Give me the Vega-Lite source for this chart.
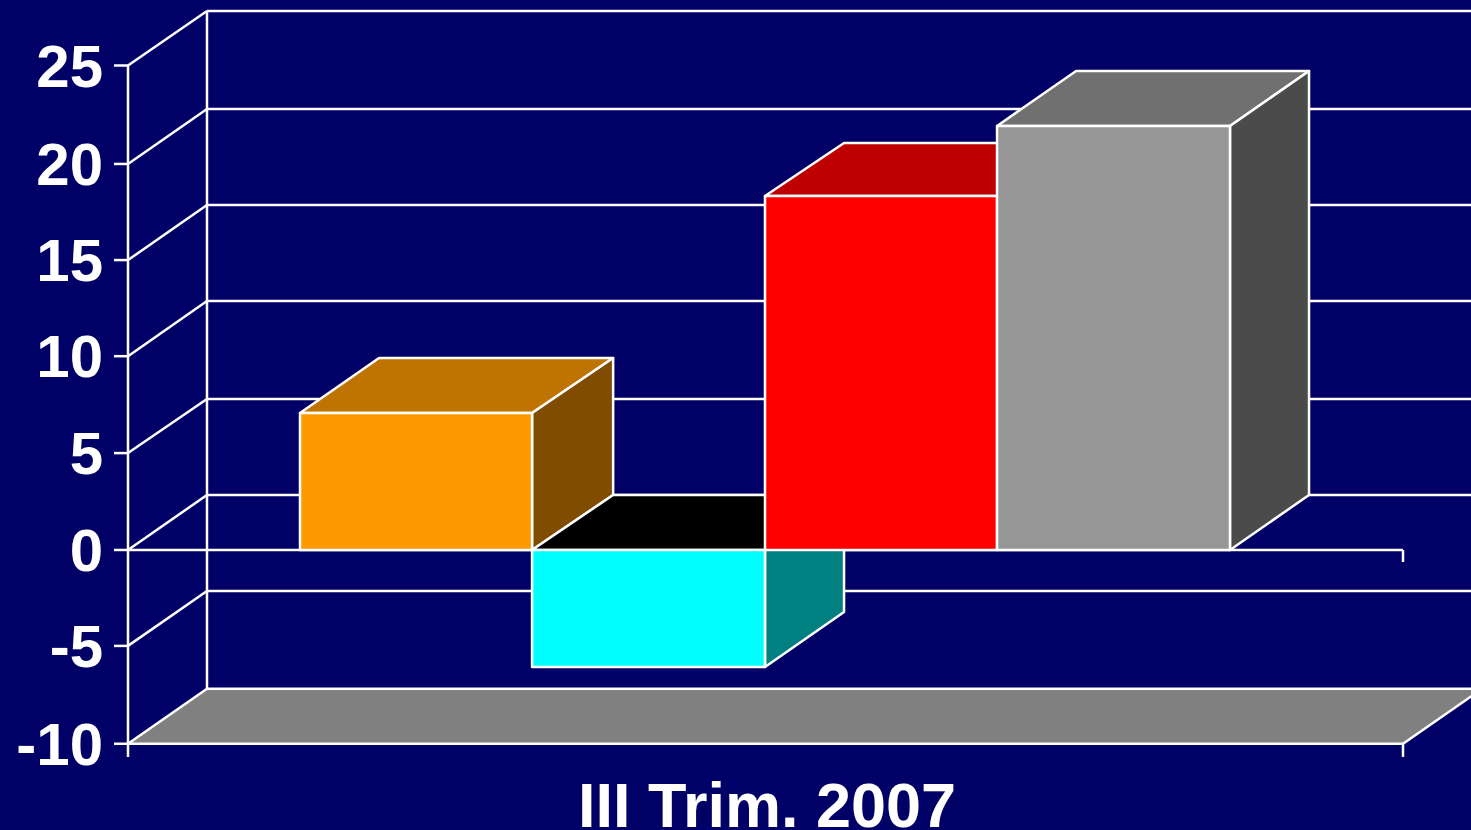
{"$schema":"https://vega.github.io/schema/vega-lite/v6.json","width":1471,"height":830,"padding":0,"autosize":{"type":"none"},"background":"#000066","config":{"view":{"stroke":null}},
"datasets":{
"lines":[
{"x":-0.011,"x2":0,"y":25,"y2":25},{"x":-0.011,"x2":0,"y":19.92,"y2":19.92},{"x":-0.011,"x2":0,"y":14.96,"y2":14.96},{"x":-0.011,"x2":0,"y":10,"y2":10},{"x":-0.011,"x2":0,"y":5,"y2":5},{"x":-0.011,"x2":0,"y":0,"y2":0},{"x":-0.011,"x2":0,"y":-4.95,"y2":-4.95},{"x":-0.011,"x2":0,"y":-10,"y2":-10},
{"x":0,"x2":0.06196,"y":25,"y2":27.81},{"x":0,"x2":0.06196,"y":19.92,"y2":22.755},{"x":0,"x2":0.06196,"y":14.96,"y2":17.8},{"x":0,"x2":0.06196,"y":10,"y2":12.85},{"x":0,"x2":0.06196,"y":5,"y2":7.79},{"x":0,"x2":0.06196,"y":0,"y2":2.838},{"x":0,"x2":0.06196,"y":-4.95,"y2":-2.116},
{"x":0.06196,"x2":1.06196,"y":27.81,"y2":27.81},{"x":0.06196,"x2":1.06196,"y":22.755,"y2":22.755},{"x":0.06196,"x2":1.06196,"y":17.8,"y2":17.8},{"x":0.06196,"x2":1.06196,"y":12.85,"y2":12.85},{"x":0.06196,"x2":1.06196,"y":7.79,"y2":7.79},{"x":0.06196,"x2":1.06196,"y":2.838,"y2":2.838},{"x":0.06196,"x2":1.06196,"y":-2.116,"y2":-2.116},
{"x":0,"x2":0,"y":25,"y2":-10.68},{"x":0.06196,"x2":0.06196,"y":27.81,"y2":-7.162},
{"x":0,"x2":1,"y":0,"y2":0},{"x":1,"x2":1,"y":0,"y2":-0.62},{"x":1,"x2":1,"y":-10,"y2":-10.68}
],
"faces":[
{"face":"floor","x":0,"y":-10,"y2":-10},{"face":"floor","x":0.06196,"y":-7.162,"y2":-10},{"face":"floor","x":1,"y":-7.162,"y2":-10},{"face":"floor","x":1.06196,"y":-7.162,"y2":-7.162},
{"face":"orange top","x":0.1349,"y":7.07,"y2":7.07},{"face":"orange top","x":0.1969,"y":9.908,"y2":7.07},{"face":"orange top","x":0.3169,"y":9.908,"y2":7.07},{"face":"orange top","x":0.3805,"y":9.908,"y2":9.908},
{"face":"orange side","x":0.3169,"y":7.07,"y2":0},{"face":"orange side","x":0.3805,"y":9.908,"y2":2.838},
{"face":"orange front","x":0.1349,"y":7.07,"y2":0},{"face":"orange front","x":0.3169,"y":7.07,"y2":0},
{"face":"cyan top","x":0.3169,"y":0,"y2":0},{"face":"cyan top","x":0.3805,"y":2.838,"y2":0},{"face":"cyan top","x":0.4996,"y":2.838,"y2":0},{"face":"cyan top","x":0.5616,"y":2.838,"y2":2.838},
{"face":"cyan side","x":0.4996,"y":0,"y2":-6.04},{"face":"cyan side","x":0.5616,"y":2.838,"y2":-3.202},
{"face":"cyan front","x":0.3169,"y":0,"y2":-6.04},{"face":"cyan front","x":0.4996,"y":0,"y2":-6.04},
{"face":"red top","x":0.4996,"y":18.27,"y2":18.27},{"face":"red top","x":0.5616,"y":21.0,"y2":18.27},{"face":"red top","x":0.6816,"y":21.0,"y2":18.27},{"face":"red top","x":0.7436,"y":21.0,"y2":21.0},
{"face":"red front","x":0.4996,"y":18.27,"y2":0},{"face":"red front","x":0.6816,"y":18.27,"y2":0},
{"face":"grey top","x":0.6816,"y":21.88,"y2":21.88},{"face":"grey top","x":0.7436,"y":24.718,"y2":21.88},{"face":"grey top","x":0.8643,"y":24.718,"y2":21.88},{"face":"grey top","x":0.9263,"y":24.718,"y2":24.718},
{"face":"grey side","x":0.8643,"y":21.88,"y2":0},{"face":"grey side","x":0.9263,"y":24.718,"y2":2.838},
{"face":"grey front","x":0.6816,"y":21.88,"y2":0},{"face":"grey front","x":0.8643,"y":21.88,"y2":0}
],
"ticks":[{"x":-0.0196,"y":25,"label":"25"},{"x":-0.0196,"y":19.92,"label":"20"},{"x":-0.0196,"y":14.96,"label":"15"},{"x":-0.0196,"y":10,"label":"10"},{"x":-0.0196,"y":5,"label":"5"},{"x":-0.0196,"y":0,"label":"0"},{"x":-0.0196,"y":-4.95,"label":"-5"},{"x":-0.0196,"y":-10,"label":"-10"}],
"title":[{"x":0.5012,"y":-14.27,"label":"III Trim. 2007"}]
},
"layer":[
{"data":{"name":"lines"},"mark":{"type":"rule","color":"#ffffff","strokeWidth":2.5},
"encoding":{"x":{"field":"x","type":"quantitative","axis":null,"scale":{"domain":[-0.10039,1.05333],"nice":false,"zero":false}},"x2":{"field":"x2"},"y":{"field":"y","type":"quantitative","axis":null,"scale":{"domain":[-14.45,28.38],"nice":false,"zero":false}},"y2":{"field":"y2"}}},
{"data":{"name":"faces"},"mark":{"type":"area","stroke":"#ffffff","strokeWidth":2.5,"strokeJoin":"round","opacity":1,"fillOpacity":1,"interpolate":"linear"},
"encoding":{"x":{"field":"x","type":"quantitative","axis":null},"y":{"field":"y","type":"quantitative","axis":null,"stack":null},"y2":{"field":"y2"},
"detail":{"field":"face"},
"fill":{"field":"face","type":"nominal","legend":null,"scale":{"domain":["floor","orange top","orange side","orange front","cyan top","cyan side","cyan front","red top","red front","grey top","grey side","grey front"],"range":["#808080","#BF7300","#804D00","#FF9900","#000000","#008080","#00FFFF","#BF0000","#FF0000","#707070","#4B4B4B","#969696"]}}}},
{"data":{"name":"ticks"},"mark":{"type":"text","align":"right","baseline":"alphabetic","dy":21,"font":"Liberation Sans","fontWeight":"bold","fontSize":60,"fill":"#ffffff"},
"encoding":{"x":{"field":"x","type":"quantitative","axis":null},"y":{"field":"y","type":"quantitative","axis":null},"text":{"field":"label"}}},
{"data":{"name":"title"},"mark":{"type":"text","align":"center","baseline":"alphabetic","font":"Liberation Sans","fontWeight":"bold","fontSize":63,"fill":"#ffffff"},
"encoding":{"x":{"field":"x","type":"quantitative","axis":null},"y":{"field":"y","type":"quantitative","axis":null},"text":{"field":"label"}}}
]}
